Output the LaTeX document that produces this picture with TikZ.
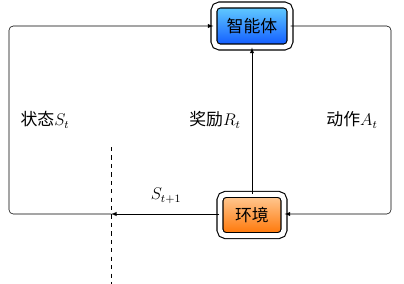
\documentclass[tikz,border=0pt]{standalone}
\usepackage{fontspec}
\newfontfamily\cjk{Noto Sans CJK SC}
\usetikzlibrary{arrows,positioning,shadings}

\tikzset{
    box/.style={draw, thick, double=white, double distance=3.5pt,
        rounded corners=4pt, inner sep=0pt, font=\cjk\fontsize{12}{14}\selectfont},
    lbl/.style={font=\fontsize{12}{14}\selectfont}
}

\begin{document}
\begin{tikzpicture}[x=0.025cm, y=-0.025cm, >=latex]
    \useasboundingbox (0,0) rectangle (404,284);
    % the two boxes
    \node[box, minimum width=1.9cm, minimum height=1.05cm,
        top color=blue!30!cyan!60, bottom color=blue!70!cyan!95]
        (agent) at (252,26) {智能体};
    \node[box, minimum width=1.6cm, minimum height=1.03cm,
        top color=orange!40, bottom color=orange!90!red]
        (env) at (252,215) {环境};
    % corners of the loop
    \coordinate (tr) at (391,26);
    \coordinate (br) at (391,214);
    \coordinate (bl) at (9,214);
    \coordinate (tl) at (9,26);
    \coordinate (cut) at (111,214);
    % action
    \draw[->, rounded corners=3pt] (agent.east) -- (tr) -- (br)
        -- (env.east |- br);
    % reward
    \draw[->] (env.north) -- (agent.south);
    % state
    \draw[->] (env.west |- bl) -- (cut);
    \draw[->, rounded corners=3pt] (cut) -- (bl) -- (tl)
        -- (agent.west);
    \draw[dashed] (111,147) -- (111,284);
    % labels
    \node[lbl] (state) at (45,120) {{\cjk 状态}$S_t$};
    \node[lbl] (reward) at (215,120) {{\cjk 奖励}$R_t$};
    \node[lbl] (action) at (352,120) {{\cjk 动作}$A_t$};
    \node[lbl] (next) at (166,196) {$S_{t+1}$};
\end{tikzpicture}
\end{document}
